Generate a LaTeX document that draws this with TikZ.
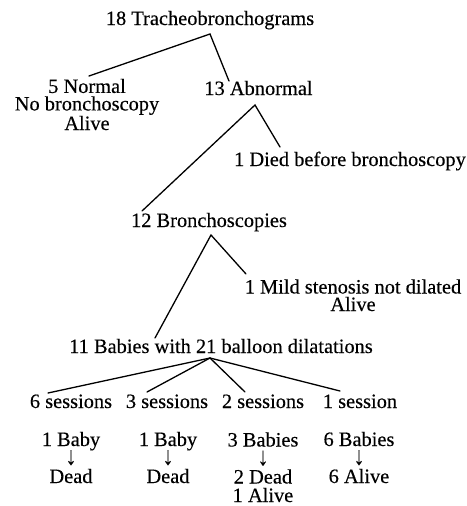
\documentclass[tikz,border=0pt]{standalone}
\usepackage{fontspec}
\usepackage{graphicx}
\setmainfont{Liberation Serif}[FakeBold=0.3]
\usetikzlibrary{calc}
\newcommand{\dnarrow}{\smash{\scalebox{1.05}[1.25]{↓}}}
\begin{document}
\begin{tikzpicture}[x=1pt,y=-1pt,
  lbl/.style={inner sep=0pt,anchor=base,align=center,font=\fontsize{20.4}{17.5}\selectfont},
  col/.style={inner sep=0pt,anchor=base,align=center,font=\fontsize{20.4}{18.5}\selectfont},
  conn/.style={line width=1.3pt,line cap=round}]
\useasboundingbox (0,0) rectangle (466,506);
\node[lbl] (top) at (210,25) {18 Tracheobronchograms};
\node[lbl] (nor) at (87,130) {5 Normal\\No bronchoscopy\\Alive};
\node[lbl] (abn) at (258.5,95) {13 Abnormal};
\node[lbl] (died) at (350,166) {1 Died before bronchoscopy};
\node[lbl] (bro) at (209,227) {12 Bronchoscopies};
\node[lbl] (mild) at (353,311) {1 Mild stenosis not dilated\\Alive};
\node[lbl] (bab) at (221,353) {11 Babies with 21 balloon dilatations};
\node[lbl] (s6) at (71,408) {6 sessions};
\node[lbl] (s3) at (167,408) {3 sessions};
\node[lbl] (s2) at (263,408) {2 sessions};
\node[lbl] (s1) at (360,408) {1 session};
\node[col] (c6) at (71,483) {1 Baby\\\dnarrow\\Dead};
\node[col] (c3) at (168,483) {1 Baby\\\dnarrow\\Dead};
\node[col] (c2) at (263,502) {3 Babies\\\dnarrow\\2 Dead\\1 Alive};
\node[col] (c1) at (359,483) {6 Babies\\\dnarrow\\6 Alive};
\coordinate (topA) at ($(top.base)+(0,9)$);
\coordinate (norE) at ($(nor.base)+(2,-54)$);
\coordinate (abnE) at ($(abn.base)+(-29.5,-14)$);
\coordinate (abnA) at ($(abn.base)+(-3.5,10)$);
\coordinate (diedE) at ($(died.base)+(-70,-19)$);
\coordinate (broE) at ($(bro.base)+(-67,-16)$);
\coordinate (broA) at ($(bro.base)+(2,8)$);
\coordinate (mildE) at ($(mild.base)+(-107,-37)$);
\coordinate (babE) at ($(bab.base)+(-66,-15)$);
\coordinate (babA) at ($(bab.base)+(-11,5)$);
\coordinate (s6E) at ($(s6.base)+(-23,-15)$);
\coordinate (s3E) at ($(s3.base)+(-20,-16)$);
\coordinate (s2E) at ($(s2.base)+(-18,-16)$);
\coordinate (s1E) at ($(s1.base)+(-20,-17)$);
\draw[conn] (norE) -- (topA) -- (abnE);
\draw[conn] (broE) -- (abnA) -- (diedE);
\draw[conn] (babE) -- (broA) -- (mildE);
\draw[conn] (babA) -- (s6E);
\draw[conn] (babA) -- (s3E);
\draw[conn] (babA) -- (s2E);
\draw[conn] (babA) -- (s1E);
\end{tikzpicture}
\end{document}
